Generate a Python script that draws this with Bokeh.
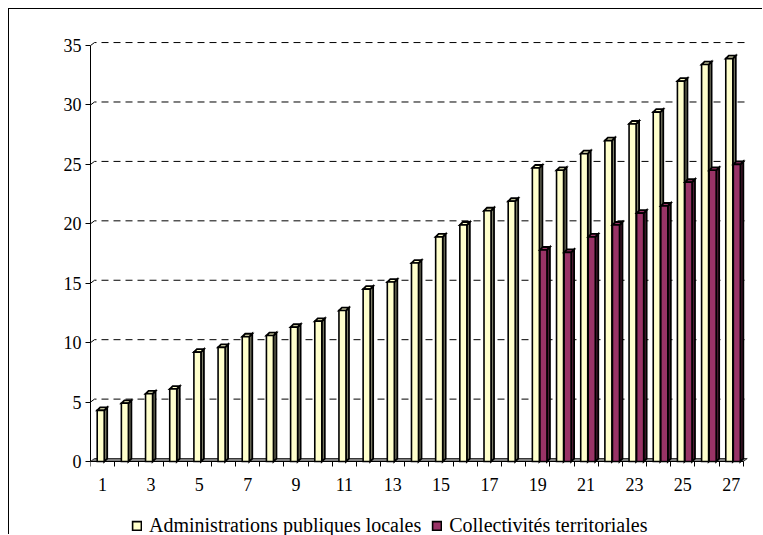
from bokeh.plotting import figure
from bokeh.models import Range1d, FixedTicker, Legend, LegendItem
from bokeh.embed import file_html
from bokeh.resources import INLINE

# ---- data ----
categories = list(range(1, 28))
apl = [4.3, 4.9, 5.7, 6.1, 9.2, 9.6, 10.5, 10.6, 11.3, 11.8, 12.7, 14.5, 15.1,
       16.7, 18.9, 19.9, 21.1, 21.9, 24.7, 24.5, 25.9, 27.0, 28.4, 29.4, 32.0,
       33.4, 33.9]
ct = [None] * 18 + [17.8, 17.6, 18.9, 19.9, 20.9, 21.5, 23.5, 24.5, 25.0]
y_ticks = [0, 5, 10, 15, 20, 25, 30, 35]
x_label_ticks = [1, 3, 5, 7, 9, 11, 13, 15, 17, 19, 21, 23, 25, 27]
series_names = ["Administrations publiques locales", "Collectivités territoriales"]
colors_front = ["#FFFFCC", "#993366"]
colors_side = ["#80806A", "#4D1A33"]
colors_top = ["#FFFFCC", "#993366"]

# ---- geometry (in data units) ----
BAR_W = 0.29
OFFSETS = [-0.078, 0.235]
DX, DY = 0.124, 0.25          # bar depth
GDX, GDY = 0.165, 0.25        # back wall depth
PX_PER_UNIT = 11.886
BOTTOM_PAD = 74 / PX_PER_UNIT  # room under the x axis for tick labels & legend

W, H = 754, 526
p = figure(width=W, height=H, output_backend="svg", toolbar_location=None,
           x_range=Range1d(0.5, 27.8), y_range=Range1d(-BOTTOM_PAD, 35.76),
           min_border_left=81, min_border_right=13, min_border_top=27,
           min_border_bottom=0)
p.styles = {"margin-left": "8px", "margin-top": "8px",
            "border-left": "1px solid black", "border-top": "1px solid black"}
p.outline_line_color = None
p.background_fill_color = "white"
p.border_fill_color = "white"
p.xgrid.visible = False
p.ygrid.visible = False

x0, x1 = 0.5, 27.5
# back-wall gridlines
gx = []
gy = []
for t in y_ticks[1:]:
    gx.append([x0, x0 + GDX, x1 + GDX])
    gy.append([t, t + GDY, t + GDY])
p.multi_line(gx, gy, line_color="black", line_width=1, line_dash="7 5")
# floor
p.patch([x0, x1, x1 + GDX, x0 + GDX], [0, 0, GDY, GDY], fill_color="#808080",
        line_color="#333333", line_width=1)

front_renderers = []
for s, vals in enumerate([apl, ct]):
    fx, fy, sx, sy, tx, ty = [], [], [], [], [], []
    for c, v in zip(categories, vals):
        if v is None:
            continue
        l = c + OFFSETS[s] - BAR_W / 2
        r = c + OFFSETS[s] + BAR_W / 2
        fx.append([l, r, r, l]); fy.append([0, 0, v, v])
        sx.append([r, r + DX, r + DX, r]); sy.append([0, DY, v + DY, v])
        tx.append([l, r, r + DX, l + DX]); ty.append([v, v, v + DY, v + DY])
    p.patches(sx, sy, fill_color=colors_side[s], line_color="black", line_width=1.8,
              line_join="miter")
    p.patches(tx, ty, fill_color=colors_top[s], line_color="black", line_width=1.8,
              line_join="miter")
    fr = p.patches(fx, fy, fill_color=colors_front[s], line_color="black",
                   line_width=1.6, line_join="miter")
    front_renderers.append(fr)

# axes
font = "Liberation Serif"
ya = p.yaxis[0]
ya.ticker = FixedTicker(ticks=y_ticks)
ya.bounds = (0, 35)
ya.major_tick_out = 5
ya.major_tick_in = 0
ya.minor_tick_line_color = None
ya.major_label_text_font = font
ya.major_label_text_font_size = "18px"
ya.major_label_text_color = "black"
ya.major_label_standoff = 4
ya.axis_line_color = "black"

xa = p.xaxis[0]
xa.fixed_location = 0
xa.ticker = FixedTicker(ticks=x_label_ticks,
                        minor_ticks=[c - 0.5 for c in categories] + [27.5])
xa.bounds = (0.5, 27.5)
xa.major_tick_line_color = None
xa.minor_tick_out = 5
xa.minor_tick_in = 0
xa.minor_tick_line_color = "black"
xa.major_label_text_font = font
xa.major_label_text_font_size = "18px"
xa.major_label_text_color = "black"
xa.major_label_standoff = 10
xa.axis_line_color = "black"

legend = Legend(items=[LegendItem(label=series_names[i], renderers=[front_renderers[i]])
                       for i in range(2)],
                location=(41, -2), orientation="horizontal",
                border_line_color=None, background_fill_alpha=0,
                padding=0, margin=0, spacing=10, label_standoff=7,
                glyph_width=11, glyph_height=11,
                label_text_font=font, label_text_font_size="20px",
                label_text_color="black")
p.add_layout(legend)

open("out.html", "w").write(file_html(p, INLINE))
